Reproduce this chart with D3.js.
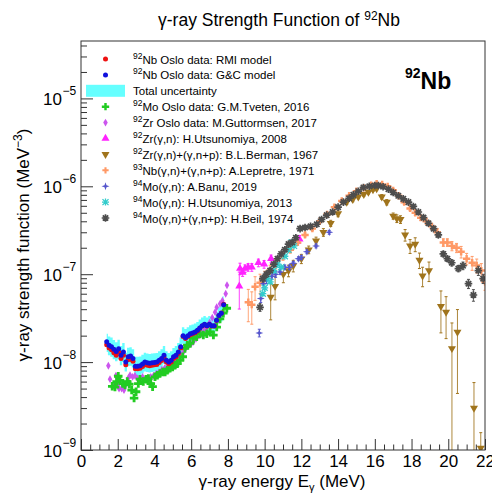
<!DOCTYPE html>
<html><head><meta charset="utf-8">
<script src="https://cdn.jsdelivr.net/npm/d3@7"></script>
<style>body{margin:0;background:#fff}svg{font-family:"Liberation Sans",Arial,sans-serif}</style>
</head><body><svg id="c" width="492" height="494"></svg>
<script>
// ---------------- DATA ----------------
const xTicks = [0,2,4,6,8,10,12,14,16,18,20,22];
const yTicksExp = [-9,-8,-7,-6,-5];

// 92Nb Oslo data (RMI and G&C models) and total uncertainty band
const osloE   = [1.40,1.53,1.66,1.79,1.92,2.05,2.18,2.31,2.44,2.57,2.70,2.83,2.96,3.09,3.22,3.35,3.48,3.61,3.74,3.87,4.00,4.13,4.26,4.39,4.52,4.65,4.78,4.91,5.04,5.17,5.30,5.43,5.56,5.69,5.82,5.95,6.08,6.21,6.34,6.47,6.60,6.73,6.86,6.99,7.12,7.25,7.38,7.51,7.64,7.77];
const gcVal   = [1.70e-8,1.55e-8,1.50e-8,1.40e-8,1.32e-8,1.42e-8,1.20e-8,1.30e-8,1.00e-8,1.15e-8,1.17e-8,1.10e-8,0.90e-8,0.90e-8,0.91e-8,0.95e-8,1.00e-8,0.98e-8,0.97e-8,0.98e-8,0.99e-8,1.00e-8,1.05e-8,1.10e-8,1.20e-8,1.05e-8,1.00e-8,1.05e-8,1.15e-8,1.20e-8,1.30e-8,1.50e-8,2.00e-8,1.90e-8,2.00e-8,2.10e-8,2.15e-8,2.20e-8,2.30e-8,2.45e-8,2.60e-8,2.70e-8,2.60e-8,2.70e-8,2.60e-8,2.60e-8,3.00e-8,3.40e-8,3.60e-8,4.50e-8];
const rmiVal  = [1.58e-8,1.45e-8,1.38e-8,1.28e-8,1.20e-8,1.30e-8,1.10e-8,1.20e-8,0.93e-8,1.07e-8,1.08e-8,1.02e-8,0.84e-8,0.84e-8,0.85e-8,0.89e-8,0.94e-8,0.92e-8,0.91e-8,0.92e-8,0.93e-8,0.94e-8,0.99e-8,1.04e-8,1.13e-8,1.00e-8,0.96e-8,1.00e-8,1.10e-8,1.15e-8,1.25e-8,1.45e-8,1.95e-8,1.85e-8,1.95e-8,2.05e-8,2.10e-8,2.16e-8,2.26e-8,2.42e-8,2.57e-8,2.67e-8,2.58e-8,2.68e-8,2.58e-8,2.58e-8,2.98e-8,3.40e-8,3.62e-8,4.55e-8];
const uncLo   = [1.30e-8,1.20e-8,1.15e-8,1.08e-8,1.02e-8,1.08e-8,0.92e-8,1.00e-8,0.78e-8,0.90e-8,0.91e-8,0.86e-8,0.70e-8,0.70e-8,0.71e-8,0.74e-8,0.78e-8,0.77e-8,0.76e-8,0.77e-8,0.78e-8,0.79e-8,0.83e-8,0.87e-8,0.95e-8,0.84e-8,0.80e-8,0.84e-8,0.92e-8,0.96e-8,1.04e-8,1.20e-8,1.62e-8,1.53e-8,1.62e-8,1.70e-8,1.74e-8,1.78e-8,1.86e-8,1.98e-8,2.10e-8,2.18e-8,2.10e-8,2.18e-8,2.10e-8,2.10e-8,2.43e-8,2.75e-8,2.90e-8,3.60e-8];
const uncHi   = [2.10e-8,1.95e-8,1.90e-8,1.78e-8,1.68e-8,1.80e-8,1.52e-8,1.65e-8,1.28e-8,1.46e-8,1.48e-8,1.40e-8,1.15e-8,1.15e-8,1.16e-8,1.21e-8,1.28e-8,1.25e-8,1.24e-8,1.25e-8,1.26e-8,1.27e-8,1.33e-8,1.40e-8,1.52e-8,1.33e-8,1.27e-8,1.33e-8,1.45e-8,1.52e-8,1.65e-8,1.90e-8,2.50e-8,2.38e-8,2.50e-8,2.62e-8,2.68e-8,2.75e-8,2.86e-8,3.05e-8,3.22e-8,3.35e-8,3.22e-8,3.35e-8,3.22e-8,3.22e-8,3.72e-8,4.20e-8,4.45e-8,5.60e-8];

// 92Mo Oslo data (Tveten 2016)
const moE   = [1.70,1.85,1.94,2.03,2.12,2.27,2.40,2.52,2.63,2.76,2.89,3.00,3.12,3.21,3.39,3.54,3.67,3.80,3.90,4.03,4.16,4.30,4.45,4.58,4.70,4.85,4.99,5.12,5.25,5.39,5.54,5.66,5.79,5.94,6.12,6.30,6.48,6.66,6.85,7.03,7.21,7.39,7.57,7.75,7.94];
const moVal = [5.3e-9,5.2e-9,6.0e-9,6.9e-9,6.2e-9,5.7e-9,5.5e-9,6.0e-9,5.6e-9,4.8e-9,3.9e-9,4.6e-9,5.7e-9,6.4e-9,6.0e-9,6.4e-9,6.5e-9,5.7e-9,5.25e-9,6.8e-9,7.1e-9,7.4e-9,7.7e-9,7.7e-9,8.1e-9,8.5e-9,8.8e-9,9.2e-9,9.6e-9,1.05e-8,1.15e-8,1.43e-8,1.56e-8,1.63e-8,1.86e-8,1.94e-8,2.1e-8,2.03e-8,2.1e-8,2.2e-8,2.03e-8,2.5e-8,3.1e-8,3.6e-8,4.1e-8];

// 92Zr Oslo data (Guttormsen 2017)
const zrE   = [1.49,1.58,1.76,1.90,2.00,2.07,2.21,2.34,2.45,2.58,2.67,2.81,2.94,3.08,3.21,3.35,3.50,3.65,3.80,3.95,4.10,4.25,4.40,4.55,4.70,4.85,5.00,5.15,5.30,5.45,5.57,5.72,5.87,6.00,6.12,6.27,6.42,6.57,6.72,6.85,7.00,7.15,7.30,7.39,7.57,7.70,7.88,7.95];
const zrVal = [9.1e-9,6.4e-9,5.4e-9,7.0e-9,5.5e-9,5.0e-9,5.0e-9,4.8e-9,5.6e-9,6.6e-9,7.1e-9,6.8e-9,7.0e-9,6.5e-9,6.4e-9,6.8e-9,6.4e-9,6.2e-9,6.8e-9,7.0e-9,7.4e-9,7.7e-9,8.2e-9,8.5e-9,9.0e-9,9.5e-9,1.0e-8,1.05e-8,1.12e-8,1.2e-8,1.3e-8,1.45e-8,1.55e-8,1.62e-8,1.7e-8,1.85e-8,2.0e-8,2.1e-8,2.3e-8,2.5e-8,2.8e-8,3.2e-8,3.7e-8,4.2e-8,4.6e-8,5.0e-8,6.0e-8,7.5e-8];

// 92Zr(g,n) Utsunomiya 2008
const utsu08E   = [8.62,8.66,8.80,8.93,9.10,9.30,9.66,9.97,10.35,11.90];
const utsu08Val = [7.3e-8,1.16e-7,1.05e-7,1.16e-7,1.2e-7,1.2e-7,1.35e-7,1.3e-7,1.5e-7,2.5e-7];
const utsu08Err = [0.45,0.15,0.1,0.1,0.1,0.1,0.1,0.1,0.1,0.1];

// 92Zr(g,n)+(g,n+p) Berman 1967
const bermE   = [10.33,10.57,11.02,11.30,11.56,12.00,12.40,12.80,13.20,13.60,14.00,14.47,14.80,15.10,15.40,15.65,15.90,16.10,16.38,16.65,17.00,17.20,17.40,17.65,17.92,18.20,18.43,18.60,18.95,19.60,19.88,20.20,20.50,21.40,21.77];
const bermVal = [5.5e-8,7.3e-8,1.0e-7,1.1e-7,1.25e-7,1.5e-7,1.9e-7,2.4e-7,3.0e-7,3.8e-7,4.9e-7,6.6e-7,7.1e-7,7.6e-7,8.1e-7,8.6e-7,9.2e-7,9.4e-7,7.6e-7,6.6e-7,4.6e-7,4.3e-7,4.2e-7,2.8e-7,2.1e-7,2.2e-7,1.45e-7,9.6e-8,1.1e-7,4.3e-8,3.7e-8,1.43e-8,2.2e-8,3.0e-9,1.05e-9];
const bermErr = [0.45,0.3,0.2,0.15,0.15,0.12,0.1,0.1,0.1,0.08,0.08,0.06,0.06,0.05,0.05,0.05,0.05,0.05,0.06,0.07,0.08,0.1,0.1,0.15,0.18,0.18,0.2,0.25,0.25,0.5,0.5,0.95,0.8,0.95,0.5];

// 93Nb(g,n)+(g,n+p) Lepretre 1971
const lepE   = [9.11,9.30,9.48,9.75,10.00,10.30,10.60,11.00,11.40,11.80,12.20,12.60,13.00,13.40,13.80,14.20,14.60,15.00,15.40,15.80,16.10,16.40,16.70,17.00,17.30,17.60,17.92,18.20,18.50,18.80,19.10,19.40,19.73,19.95,20.20,20.45,20.70,21.00,21.30,21.55,21.80,22.00];
const lepVal = [4.8e-8,4.5e-8,7.2e-8,8.0e-8,9.0e-8,1.1e-7,1.3e-7,1.6e-7,1.9e-7,2.3e-7,2.8e-7,3.3e-7,4.0e-7,4.8e-7,5.8e-7,6.8e-7,7.8e-7,8.8e-7,9.6e-7,1.03e-6,1.07e-6,1.05e-6,1.0e-6,9.0e-7,7.8e-7,6.6e-7,5.6e-7,5.0e-7,4.4e-7,4.0e-7,3.5e-7,3.0e-7,2.3e-7,2.3e-7,2.1e-7,2.0e-7,1.8e-7,1.5e-7,1.35e-7,1.26e-7,1.1e-7,8.2e-8];
const lepErr = [0.4,0.4,0.3,0.25,0.2,0.15,0.12,0.1,0.08,0.06,0.05,0.05,0.04,0.04,0.04,0.04,0.03,0.03,0.03,0.03,0.03,0.03,0.03,0.04,0.04,0.05,0.05,0.06,0.07,0.08,0.08,0.1,0.1,0.1,0.12,0.12,0.15,0.15,0.18,0.18,0.2,0.2];

// 94Mo(g,n) Banu 2019
const banuE   = [9.71,9.79,9.93,10.10,10.40,10.60,10.84,11.10,11.35,11.56,11.84,12.00,12.30,12.80,13.52];
const banuVal = [2.15e-8,5.3e-8,7.8e-8,8.5e-8,9.5e-8,1.0e-7,1.06e-7,1.2e-7,1.2e-7,1.33e-7,1.5e-7,1.55e-7,1.8e-7,2.1e-7,3.0e-7];
const banuErr = [0.1,0.1,0.1,0.08,0.08,0.08,0.06,0.06,0.06,0.05,0.05,0.05,0.05,0.05,0.05];

// 94Mo(g,n) Utsunomiya 2013
const utsu13E   = [9.90,10.00,10.15,10.30,10.50,10.70,10.90,11.10,11.30,11.47,11.60];
const utsu13Val = [6.0e-8,7.0e-8,9.0e-8,8.2e-8,1.1e-7,1.3e-7,1.2e-7,1.6e-7,1.9e-7,2.3e-7,2.1e-7];

// 94Mo(g,n)+(g,n+p) Beil 1974
const beilE   = [9.75,9.90,10.10,10.30,10.50,10.70,10.90,11.10,11.30,11.50,11.70,11.93,12.20,12.50,12.84,13.10,13.38,13.70,14.00,14.29,14.60,14.83,15.10,15.38,15.70,16.00,16.19,16.45,16.74,17.00,17.28,17.55,17.83,18.10,18.37,18.65,18.92,19.20,19.46,19.73,19.95,20.19,20.55,20.80,21.10,21.37,21.64,21.90];
const beilVal = [4.2e-8,8.9e-8,1.0e-7,1.1e-7,1.3e-7,1.5e-7,1.7e-7,1.9e-7,2.2e-7,2.3e-7,2.6e-7,3.3e-7,3.4e-7,3.5e-7,3.7e-7,4.2e-7,4.7e-7,5.1e-7,5.8e-7,6.6e-7,7.3e-7,8.0e-7,8.8e-7,9.7e-7,1.0e-6,1.02e-6,1.02e-6,9.9e-7,9.3e-7,8.5e-7,7.8e-7,7.2e-7,6.6e-7,5.9e-7,5.1e-7,4.4e-7,3.8e-7,3.3e-7,2.8e-7,1.7e-7,1.5e-7,1.35e-7,1.16e-7,1.25e-7,7.8e-8,5.8e-8,1.1e-7,8.9e-8];
const beilErr = [0.1,0.08,0.08,0.06,0.06,0.05,0.05,0.05,0.05,0.05,0.05,0.05,0.05,0.04,0.04,0.04,0.04,0.04,0.04,0.03,0.03,0.03,0.03,0.03,0.03,0.03,0.03,0.03,0.03,0.03,0.03,0.04,0.04,0.04,0.04,0.05,0.05,0.05,0.06,0.07,0.07,0.08,0.08,0.1,0.12,0.15,0.12,0.12];

// legend
const legendLabels = [
  {sup:"92", txt:"Nb Oslo data: RMI model"},
  {sup:"92", txt:"Nb Oslo data: G&C model"},
  {sup:"",   txt:"Total uncertainty"},
  {sup:"92", txt:"Mo Oslo data: G.M.Tveten, 2016"},
  {sup:"92", txt:"Zr Oslo data: M.Guttormsen, 2017"},
  {sup:"92", txt:"Zr(γ,n): H.Utsunomiya, 2008"},
  {sup:"92", txt:"Zr(γ,n)+(γ,n+p): B.L.Berman, 1967"},
  {sup:"93", txt:"Nb(γ,n)+(γ,n+p): A.Lepretre, 1971"},
  {sup:"94", txt:"Mo(γ,n): A.Banu, 2019"},
  {sup:"94", txt:"Mo(γ,n): H.Utsunomiya, 2013"},
  {sup:"94", txt:"Mo(γ,n)+(γ,n+p): H.Beil, 1974"}
];

// ---------------- CHART ----------------
const svg = d3.select("#c");
const L=81, R=485, T=41, B=450;
const x = d3.scaleLinear().domain([0,22]).range([L,R]);
const y = d3.scaleLog().domain([1e-9,4.5e-5]).range([B,T]);

svg.append("defs").append("clipPath").attr("id","clip")
  .append("rect").attr("x",L).attr("y",T).attr("width",R-L).attr("height",B-T);

const C = {
  red:"#ee1111", blue:"#1111dd", band:"#66ffff", green:"#22cc22", violet:"#cc55ee",
  magenta:"#ff22ff", brown:"#a0741c", orange:"#ff9966", banu:"#5555cc", cyan:"#33cccc", grey:"#4d4d4d"
};

// marker shapes
const sym = {
  circle: (g,c)=>g.append("circle").attr("r",2.5).attr("fill",c),
  cross: (g,c,s)=>g.append("path").attr("d",d3.symbol(d3.symbolCross, s||42)()).attr("fill",c),
  diamond: (g,c)=>g.append("path").attr("d",d3.symbol(d3.symbolDiamond,18)()).attr("fill",c),
  triUp: (g,c)=>g.append("path").attr("d",d3.symbol(d3.symbolTriangle,28)()).attr("fill",c),
  triDown: (g,c)=>g.append("path").attr("d",d3.symbol(d3.symbolTriangle,28)()).attr("fill",c).attr("transform","rotate(180)"),
  star4: (g,c)=>g.append("path").attr("d","M0,-4L1,-1L4,0L1,1L0,4L-1,1L-4,0L-1,-1Z").attr("fill",c),
  asterX: (g,c)=>g.append("path").attr("d","M-3,-3L3,3M-3,3L3,-3M0,-3.5V3.5M-3.5,0H3.5").attr("stroke",c).attr("stroke-width",1.3),
  aster: (g,c)=>g.append("path").attr("d","M0,-3.8V3.8M-3.8,0H3.8M-2.7,-2.7L2.7,2.7M-2.7,2.7L2.7,-2.7").attr("stroke",c).attr("stroke-width",1.7)
};

const plot = svg.append("g").attr("clip-path","url(#clip)");

// band
const bandData = osloE.map((e,i)=>({e, lo:uncLo[i], hi:uncHi[i]}));
plot.append("path").datum(bandData)
  .attr("fill",C.band)
  .attr("d", d3.area().x(d=>x(d.e)).y0(d=>y(d.lo)).y1(d=>y(d.hi)).curve(d3.curveStep));

function drawSeries(E, V, Err, color, shape, size) {
  const g = plot.append("g");
  const data = E.map((e,i)=>({e, v:V[i], err: Err ? Err[i] : 0}));
  if (Err) {
    data.forEach(d=>{
      const lo = Math.max(d.v*(1-d.err), 1e-12), hi = d.v*(1+d.err);
      const xx = x(d.e);
      g.append("line").attr("x1",xx).attr("x2",xx).attr("y1",y(lo)).attr("y2",y(hi))
        .attr("stroke",color).attr("stroke-width",1).attr("opacity",0.85);
      [lo,hi].forEach(v=>g.append("line").attr("x1",xx-1.5).attr("x2",xx+1.5).attr("y1",y(v)).attr("y2",y(v))
        .attr("stroke",color).attr("stroke-width",1));
    });
  }
  data.forEach(d=>{
    const m = g.append("g").attr("transform",`translate(${x(d.e)},${y(d.v)})`);
    sym[shape](m,color,size);
  });
}

drawSeries(zrE, zrVal, null, C.violet, "diamond");
drawSeries(moE, moVal, null, C.green, "cross", 40);
drawSeries(osloE, rmiVal, null, C.red, "circle");
drawSeries(osloE, gcVal, null, C.blue, "circle");
drawSeries(utsu08E, utsu08Val, utsu08Err, C.magenta, "triUp");
drawSeries(lepE, lepVal, lepErr, C.orange, "cross", 30);
drawSeries(bermE, bermVal, bermErr, C.brown, "triDown");
drawSeries(banuE, banuVal, banuErr, C.banu, "star4");
drawSeries(utsu13E, utsu13Val, null, C.cyan, "asterX");
drawSeries(beilE, beilVal, beilErr, C.grey, "aster");

// ---------------- AXES ----------------
const axCol = "#333";
const xMinor = d3.range(0,22.01,0.5).filter(v=>v%2!==0);
const gx = svg.append("g").attr("transform",`translate(0,${B})`);
gx.call(d3.axisBottom(x).tickValues(xTicks).tickSizeInner(-11).tickSizeOuter(0).tickPadding(5).tickFormat(d3.format("d")));
gx.call(g=>g.select(".domain").remove());
gx.selectAll("text").attr("font-size",17).attr("font-family","Liberation Sans, Arial, sans-serif").attr("fill","#000");
gx.selectAll("line").attr("stroke",axCol);
const gxm = svg.append("g").attr("transform",`translate(0,${B})`);
gxm.call(d3.axisBottom(x).tickValues(xMinor).tickSizeInner(-5.5).tickSizeOuter(0).tickFormat(""));
gxm.select(".domain").remove();
gxm.selectAll("line").attr("stroke",axCol);

const yMajor = yTicksExp.map(p=>Math.pow(10,p));
const yMinor = [];
yTicksExp.forEach(p=>{ [2,3,4,5,6,7,8,9].forEach(k=>{ const v=k*Math.pow(10,p); if (v<=4.5e-5) yMinor.push(v); }); });
const gy = svg.append("g").attr("transform",`translate(${L},0)`);
gy.call(d3.axisLeft(y).tickValues(yMajor).tickSizeInner(-12).tickSizeOuter(0).tickFormat(""));
gy.select(".domain").remove();
gy.selectAll("line").attr("stroke",axCol);
const gym = svg.append("g").attr("transform",`translate(${L},0)`);
gym.call(d3.axisLeft(y).tickValues(yMinor).tickSizeInner(-6).tickSizeOuter(0).tickFormat(""));
gym.select(".domain").remove();
gym.selectAll("line").attr("stroke",axCol);

yTicksExp.forEach(p=>{
  svg.append("text").attr("x",62).attr("y",y(Math.pow(10,p))+7)
    .attr("text-anchor","end").attr("font-size",17).attr("fill","#000").text("10");
  svg.append("text").attr("x",62.5).attr("y",y(Math.pow(10,p))-3)
    .attr("font-size",12).attr("fill","#000").text("−"+(-p));
});

// frame
svg.append("rect").attr("x",L).attr("y",T).attr("width",R-L).attr("height",B-T)
  .attr("fill","none").attr("stroke",axCol).attr("stroke-width",1);

// title
const title = svg.append("text").attr("x",279).attr("y",26).attr("text-anchor","middle").attr("font-size",17.5).attr("fill","#000");
title.append("tspan").text("γ-ray Strength Function of ");
title.append("tspan").attr("font-size",12).attr("dy",-6).text("92");
title.append("tspan").attr("dy",6).text("Nb");

// axis titles
const xt = svg.append("text").attr("x",282).attr("y",487).attr("text-anchor","middle").attr("font-size",17).attr("fill","#000");
xt.append("tspan").text("γ-ray energy E");
xt.append("tspan").attr("font-size",11).attr("dy",4).text("γ");
xt.append("tspan").attr("dy",-4).text(" (MeV)");

const yt = svg.append("text").attr("transform","translate(29,245) rotate(-90)").attr("text-anchor","middle").attr("font-size",17).attr("fill","#000");
yt.append("tspan").text("γ-ray strength function (MeV");
yt.append("tspan").attr("font-size",12).attr("dy",-7).text("−3");
yt.append("tspan").attr("dy",7).text(")");

// Nb label
const nb = svg.append("text").attr("x",405).attr("y",89).attr("font-weight","bold").attr("fill","#000");
nb.append("tspan").attr("font-size",14).attr("dy",-11).text("92");
nb.append("tspan").attr("font-size",23).attr("dy",11).text("Nb");

// ---------------- LEGEND ----------------
const legY0 = 59, legDY = 15.9, mx = 105.5, tx = 133;
const legShapes = [
  ["circle",C.red],["circle",C.blue],["band",C.band],["cross",C.green,30],["diamond",C.violet],
  ["triUp",C.magenta],["triDown",C.brown],["cross",C.orange,22],["star4",C.banu],["asterX",C.cyan],["aster",C.grey]
];
legendLabels.forEach((lab,i)=>{
  const yy = legY0 + i*legDY;
  const s = legShapes[i];
  if (s[0]==="band") {
    svg.append("rect").attr("x",86).attr("y",yy-6).attr("width",39).attr("height",12).attr("fill",s[1]);
  } else {
    const m = svg.append("g").attr("transform",`translate(${mx},${yy})`);
    sym[s[0]](m,s[1],s[2]);
  }
  const t = svg.append("text").attr("x",tx).attr("y",yy+4.5).attr("font-size",11.5).attr("fill","#000");
  if (lab.sup) {
    t.append("tspan").attr("font-size",8.5).attr("dy",-5).text(lab.sup);
    t.append("tspan").attr("dy",5).text(lab.txt);
  } else t.text(lab.txt);
});
</script></body></html>
